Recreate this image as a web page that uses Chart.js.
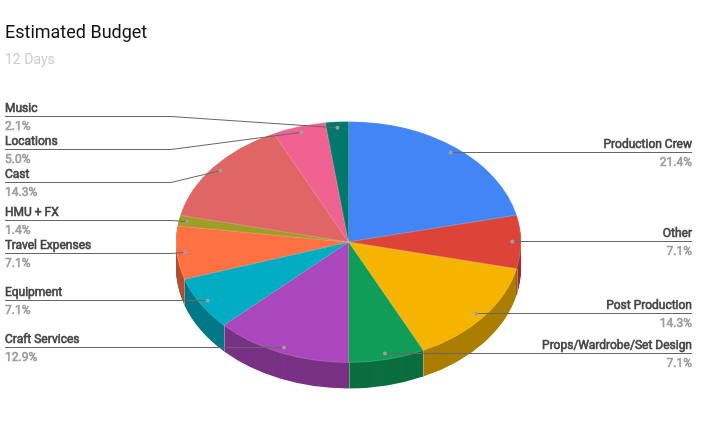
<!DOCTYPE html>
<html>
<head>
<meta charset="utf-8">
<title>Estimated Budget</title>
<script src="https://cdn.jsdelivr.net/npm/chart.js@4"></script>
<style>
  html, body { margin: 0; padding: 0; background: #fff; }
  canvas { display: block; }
</style>
</head>
<body>
<canvas id="budgetChart" width="714" height="441"></canvas>
<script>
const categories = ['Production Crew', 'Other', 'Post Production', 'Props/Wardrobe/Set Design', 'Craft Services',
    'Equipment', 'Travel Expenses', 'HMU + FX', 'Cast', 'Locations', 'Music'];
const shares = [21.43, 7.14, 14.29, 7.14, 12.86, 7.14, 7.14, 1.43, 14.29, 5.0, 2.14];
const sliceColors = ['#4285f4', '#db4437', '#f4b400', '#0f9d58', '#ab47bc',
    '#00acc1', '#ff7043', '#9e9d24', '#e06666', '#f06292', '#00796b'];

// the labels that do not sit level with their slice
const leaderY = { 'Music': 116.5, 'Locations': 149.5, 'Cast': 182.5, 'HMU + FX': 220.5, 'Travel Expenses': 253.5 };

const pieCenterY = 242;
const squash = 120.5 / 172.5;
const depth = 26;

function darken(hex) {
    const n = parseInt(hex.slice(1), 16);
    const c = [n >> 16, (n >> 8) & 255, n & 255].map(v => Math.round(v * 0.7));
    return `rgb(${c[0]},${c[1]},${c[2]})`;
}

// Roboto Medium is not installed, so thicken the regular face a little
function mediumText(ctx, text, x, y, color) {
    ctx.fillStyle = color;
    ctx.strokeStyle = color;
    ctx.lineWidth = 0.6;
    ctx.fillText(text, x, y);
    ctx.strokeText(text, x, y);
}

// squash the pie into an ellipse and stack darker copies under it for the wall
const pie3d = {
    id: 'pie3d',
    beforeDatasetsDraw(chart) {
        const ctx = chart.ctx;
        const arcs = chart.getDatasetMeta(0).data;
        const { x, y, outerRadius } = arcs[0];

        for (let d = depth; d >= 1; d--) {
            ctx.save();
            ctx.translate(x, pieCenterY + d);
            ctx.scale(1, squash);
            ctx.translate(-x, -y);
            arcs.forEach((arc, i) => {
                const saved = arc.options;
                const dark = darken(sliceColors[i]);
                arc.options = { ...saved, backgroundColor: dark, borderColor: dark, borderWidth: 0 };
                arc.draw(ctx);
                arc.options = saved;
            });
            ctx.restore();
        }

        // thin dividers on the wall
        ctx.save();
        ctx.strokeStyle = 'rgba(190,190,190,0.55)';
        ctx.lineWidth = 1;
        arcs.forEach(arc => {
            if (Math.sin(arc.startAngle) <= 0) return;
            const px = Math.round(x + outerRadius * Math.cos(arc.startAngle)) + 0.5;
            const py = pieCenterY + outerRadius * squash * Math.sin(arc.startAngle);
            ctx.beginPath();
            ctx.moveTo(px, py);
            ctx.lineTo(px, py + depth);
            ctx.stroke();
        });
        ctx.restore();

        ctx.save();
        ctx.translate(x, pieCenterY);
        ctx.scale(1, squash);
        ctx.translate(-x, -y);
    },
    afterDatasetsDraw(chart) {
        const ctx = chart.ctx;
        ctx.restore();

        const arcs = chart.getDatasetMeta(0).data;
        const { x, outerRadius } = arcs[0];
        const left = 5;
        const right = 692;

        arcs.forEach((arc, i) => {
            const mid = (arc.startAngle + arc.endAngle) / 2;
            const dotX = x + 0.95 * outerRadius * Math.cos(mid);
            const rawY = pieCenterY + 0.95 * outerRadius * squash * Math.sin(mid);
            const onRight = Math.cos(mid) > 0;
            const edge = onRight ? right : left;
            const bent = leaderY[categories[i]];
            const lineY = bent || Math.floor(rawY) + 0.5;
            const dotY = bent ? rawY : lineY;

            ctx.strokeStyle = '#666';
            ctx.lineWidth = 1;
            ctx.beginPath();
            ctx.moveTo(edge, lineY);
            if (bent) ctx.lineTo(171, lineY);
            ctx.lineTo(dotX, dotY);
            ctx.stroke();

            ctx.fillStyle = '#9e9e9e';
            ctx.beginPath();
            ctx.arc(dotX, dotY, 2, 0, Math.PI * 2);
            ctx.fill();

            ctx.textAlign = onRight ? 'right' : 'left';
            ctx.textBaseline = 'alphabetic';
            ctx.font = '12px Roboto';
            mediumText(ctx, categories[i], edge, lineY - 4.5, '#444');
            mediumText(ctx, shares[i].toFixed(1) + '%', edge, lineY + 13.5, '#9e9e9e');
        });
    }
};

new Chart('budgetChart', {
    type: 'pie',
    data: {
        labels: categories,
        datasets: [{
            data: shares,
            backgroundColor: sliceColors,
            borderColor: 'rgba(255,255,255,0.35)',
            borderWidth: 0.6,
            radius: 172.5,
            clip: false
        }]
    },
    options: {
        responsive: false,
        animation: false,
        layout: { padding: { left: 5, right: 22 } },
        plugins: {
            legend: { display: false },
            tooltip: { enabled: false },
            title: {
                display: true,
                text: 'Estimated Budget',
                align: 'start',
                color: '#111',
                font: { family: 'Roboto', size: 18, weight: 'normal' },
                padding: { top: 23, bottom: 3 }
            },
            subtitle: {
                display: true,
                text: '12 Days',
                align: 'start',
                color: '#ccc',
                font: { family: 'Roboto', size: 14, weight: 'normal' },
                padding: { top: 4, bottom: 0 }
            }
        }
    },
    plugins: [pie3d]
});
</script>
</body>
</html>
